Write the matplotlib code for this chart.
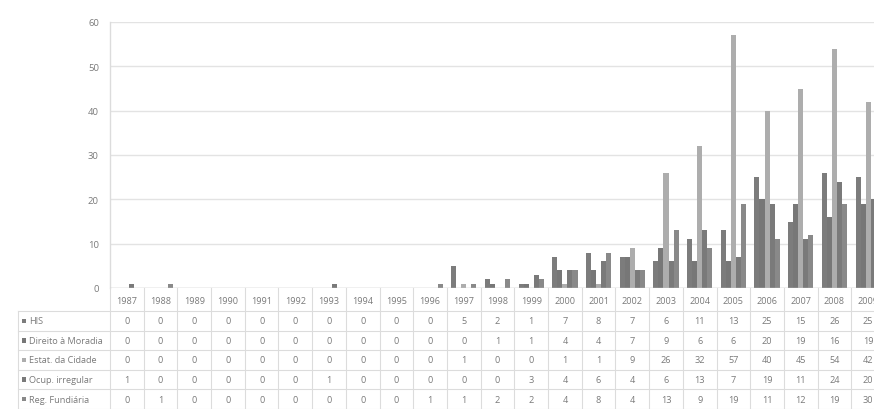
import matplotlib
matplotlib.use("Agg")
import matplotlib.pyplot as plt
from matplotlib.lines import Line2D
from matplotlib.patches import Rectangle
import numpy as np

years = [str(y) for y in range(1987, 2010)]
series_names = ["HIS", "Direito à Moradia", "Estat. da Cidade", "Ocup. irregular", "Reg. Fundiária"]
his =        [0, 0, 0, 0, 0, 0, 0, 0, 0, 0, 5, 2, 1, 7, 8, 7, 6, 11, 13, 25, 15, 26, 25]
direito =    [0, 0, 0, 0, 0, 0, 0, 0, 0, 0, 0, 1, 1, 4, 4, 7, 9, 6, 6, 20, 19, 16, 19]
estatuto =   [0, 0, 0, 0, 0, 0, 0, 0, 0, 0, 1, 0, 0, 1, 1, 9, 26, 32, 57, 40, 45, 54, 42]
ocupacao =   [1, 0, 0, 0, 0, 0, 1, 0, 0, 0, 0, 0, 3, 4, 6, 4, 6, 13, 7, 19, 11, 24, 20]
regulariz =  [0, 1, 0, 0, 0, 0, 0, 0, 0, 1, 1, 2, 2, 4, 8, 4, 13, 9, 19, 11, 12, 19, 30]
series = [his, direito, estatuto, ocupacao, regulariz]
colors = ["#7c7c7c", "#777777", "#adadad", "#7a7a7a", "#898989"]
y_ticks = [0, 10, 20, 30, 40, 50, 60]

W, H = 874, 410
fig = plt.figure(figsize=(W / 100, H / 100), dpi=100)
fig.patch.set_facecolor("white")

# plot area in pixel terms (the last year column runs past the right edge)
left_px, right_px = 110, 885
top_px, zero_px = 23, 289
ax = fig.add_axes([left_px / W, 1 - zero_px / H, (right_px - left_px) / W, (zero_px - top_px) / H])
ax.set_facecolor("white")

n = len(years)
x = np.arange(n)
bw = 0.15
offsets = (np.arange(5) - 2) * bw
for vals, off, c in zip(series, offsets, colors):
    ax.bar(x + off, vals, width=bw, color=c, linewidth=0, zorder=3)

ax.set_xlim(-0.5, n - 0.5)
ax.set_ylim(0, 60)
ax.set_yticks(y_ticks)
ax.set_yticklabels([str(t) for t in y_ticks], fontsize=6.8, color="#7a7a7a", family="Open Sans")
ax.tick_params(axis="y", length=0, pad=8)
ax.set_xticks([])
ax.grid(axis="y", color="#e3e3e3", linewidth=1.0, zorder=0)
for s in ["top", "right", "bottom"]:
    ax.spines[s].set_visible(False)
ax.spines["left"].set_color("#dcdcdc")
ax.spines["left"].set_linewidth(1.0)
ax.axhline(0, color="#cfcfcf", linewidth=1.0, zorder=4)

# data table underneath, drawn in figure pixel coordinates
def px(xp, yp):
    return xp / W, 1 - yp / H

col_w = (right_px - left_px) / n
line_c = "#dcdcdc"
txt_c = "#7a7a7a"
fs = 6.6
header_y0, header_y1 = 289, 312
row_h = 19.6
row_tops = [header_y1 + i * row_h for i in range(len(series_names) + 1)]
label_left = 18

# horizontal lines
for yt in row_tops:
    fig.add_artist(Line2D([label_left / W, right_px / W], [1 - yt / H, 1 - yt / H],
                          color=line_c, linewidth=0.8))
# vertical lines
for j in range(n + 1):
    xp = left_px + j * col_w
    fig.add_artist(Line2D([xp / W, xp / W], [1 - header_y0 / H, 1 - row_tops[-1] / H],
                          color=line_c, linewidth=0.8))
fig.add_artist(Line2D([label_left / W, label_left / W], [1 - header_y1 / H, 1 - row_tops[-1] / H],
                      color=line_c, linewidth=0.8))

# year header
for j, yr in enumerate(years):
    cx = left_px + (j + 0.5) * col_w
    fig.text(*px(cx, (header_y0 + header_y1) / 2 + 1), yr, ha="center", va="center",
             fontsize=fs, color=txt_c, family="Open Sans")

# rows: legend key, series name and values
for i, (name, vals, c) in enumerate(zip(series_names, series, colors)):
    cy = row_tops[i] + row_h / 2
    fig.add_artist(Rectangle(px(22, cy + 2.2), 4.4 / W, 4.4 / H, color=c, linewidth=0))
    fig.text(*px(29, cy), name, ha="left", va="center", fontsize=fs,
             color=txt_c, family="Open Sans")
    for j, v in enumerate(vals):
        cx = left_px + (j + 0.5) * col_w
        fig.text(*px(cx, cy), str(v), ha="center", va="center", fontsize=fs,
                 color=txt_c, family="Open Sans")

fig.savefig("out.png", dpi=100, facecolor="white")
